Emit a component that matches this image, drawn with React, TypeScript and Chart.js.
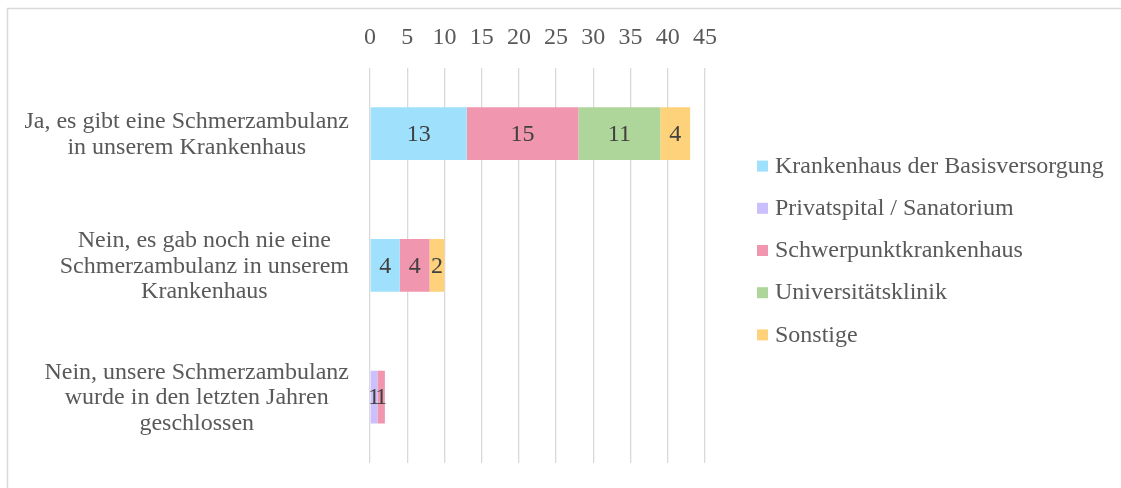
import React, { useEffect, useRef } from "react";
import { Chart, registerables } from "chart.js";

Chart.register(...registerables);

const categories: string[][] = [
  ["Ja, es gibt eine Schmerzambulanz", "in unserem Krankenhaus"],
  ["Nein, es gab noch nie eine", "Schmerzambulanz in unserem", "Krankenhaus"],
  ["Nein, unsere Schmerzambulanz", "wurde in den letzten Jahren", "geschlossen"],
];

const seriesNames = [
  "Krankenhaus der Basisversorgung",
  "Privatspital / Sanatorium",
  "Schwerpunktkrankenhaus",
  "Universitätsklinik",
  "Sonstige",
];

const basisversorgung = [13, 4, 0];
const privatspital = [0, 0, 1];
const schwerpunkt = [15, 4, 1];
const universitaet = [11, 0, 0];
const sonstige = [4, 2, 0];

const seriesColors = ["#9FE1FC", "#CCBFFD", "#F096AE", "#AED69A", "#FED27B"];

const xMin = 0;
const xMax = 45;
const xStep = 5;

const FONT = "'Liberation Serif', 'Times New Roman', serif";
const TEXT = "#595959";
const LABEL_TEXT = "#404040";
const GRID = "#d9d9d9";

export default function App() {
  const ref = useRef<HTMLCanvasElement | null>(null);

  useEffect(() => {
    if (!ref.current) return;
    const values = [basisversorgung, privatspital, schwerpunkt, universitaet, sonstige];

    const framePlugin = {
      id: "frame",
      beforeDraw(chart: any) {
        const { ctx, width, height } = chart;
        ctx.save();
        ctx.fillStyle = "#ffffff";
        ctx.fillRect(0, 0, width, height);
        ctx.strokeStyle = GRID;
        ctx.lineWidth = 1.5;
        ctx.beginPath();
        ctx.moveTo(7.5, height);
        ctx.lineTo(7.5, 8.5);
        ctx.lineTo(width, 8.5);
        ctx.stroke();
        ctx.restore();
      },
    };

    const yLabelPlugin = {
      id: "yLabels",
      afterDraw(chart: any) {
        const { ctx, chartArea } = chart;
        const yScale = chart.scales.y;
        const lh = 25.5;
        ctx.save();
        ctx.font = `24px ${FONT}`;
        ctx.fillStyle = TEXT;
        ctx.textAlign = "center";
        ctx.textBaseline = "middle";
        categories.forEach((lines, i) => {
          const y = yScale.getPixelForValue(i);
          const w = Math.max(...lines.map((l) => ctx.measureText(l).width));
          const right = chartArea.left - 21;
          const cx = right - w / 2;
          lines.forEach((line, j) => {
            ctx.fillText(line, cx, y + (j - (lines.length - 1) / 2) * lh + 1);
          });
        });
        ctx.restore();
      },
    };

    const valueLabelPlugin = {
      id: "valueLabels",
      afterDatasetsDraw(chart: any) {
        const { ctx } = chart;
        ctx.save();
        ctx.font = `24px ${FONT}`;
        ctx.fillStyle = LABEL_TEXT;
        ctx.textAlign = "center";
        ctx.textBaseline = "middle";
        chart.data.datasets.forEach((ds: any, di: number) => {
          const meta = chart.getDatasetMeta(di);
          meta.data.forEach((el: any, i: number) => {
            const v = ds.data[i];
            if (!v) return;
            const cx = (el.x + el.base) / 2;
            ctx.fillText(String(v), cx, el.y + 1);
          });
        });
        ctx.restore();
      },
    };

    const legendPlugin = {
      id: "customLegend",
      afterDraw(chart: any) {
        const { ctx, chartArea } = chart;
        const x0 = chartArea.right + 52;
        const spacing = 42.2;
        const n = chart.data.datasets.length;
        const cy = 250;
        ctx.save();
        ctx.font = `24px ${FONT}`;
        ctx.textAlign = "left";
        ctx.textBaseline = "middle";
        chart.data.datasets.forEach((ds: any, i: number) => {
          const y = cy + (i - (n - 1) / 2) * spacing;
          ctx.fillStyle = ds.backgroundColor;
          ctx.fillRect(x0, y - 5, 11, 11);
          ctx.fillStyle = TEXT;
          ctx.fillText(ds.label, x0 + 18, y + 1);
        });
        ctx.restore();
      },
    };

    const chart = new Chart(ref.current, {
      type: "bar",
      data: {
        labels: categories.map((c) => c.join(" ")),
        datasets: seriesNames.map((name, i) => ({
          label: name,
          data: values[i],
          backgroundColor: seriesColors[i],
          borderWidth: 0,
          categoryPercentage: 1,
          barPercentage: 0.4,
        })),
      },
      options: {
        indexAxis: "y",
        animation: false,
        responsive: true,
        maintainAspectRatio: false,
        layout: { padding: { left: 362, right: 416, top: 7, bottom: 25 } },
        plugins: {
          legend: { display: false },
          tooltip: { enabled: false },
        },
        scales: {
          x: {
            position: "top",
            stacked: true,
            min: xMin,
            max: xMax,
            ticks: {
              stepSize: xStep,
              color: TEXT,
              font: { family: FONT, size: 24 },
              padding: 16,
              maxRotation: 0,
            },
            grid: { color: GRID, lineWidth: 1.3, drawTicks: false },
            border: { display: false },
          },
          y: {
            stacked: true,
            ticks: { display: false },
            grid: { display: false },
            border: { display: false },
          },
        },
      },
      plugins: [framePlugin, yLabelPlugin, valueLabelPlugin, legendPlugin],
    } as any);

    return () => chart.destroy();
  }, []);

  return (
    <div style={{ position: "fixed", left: 0, top: 0, width: 1121, height: 488, background: "#fff" }}>
      <canvas ref={ref} />
    </div>
  );
}
